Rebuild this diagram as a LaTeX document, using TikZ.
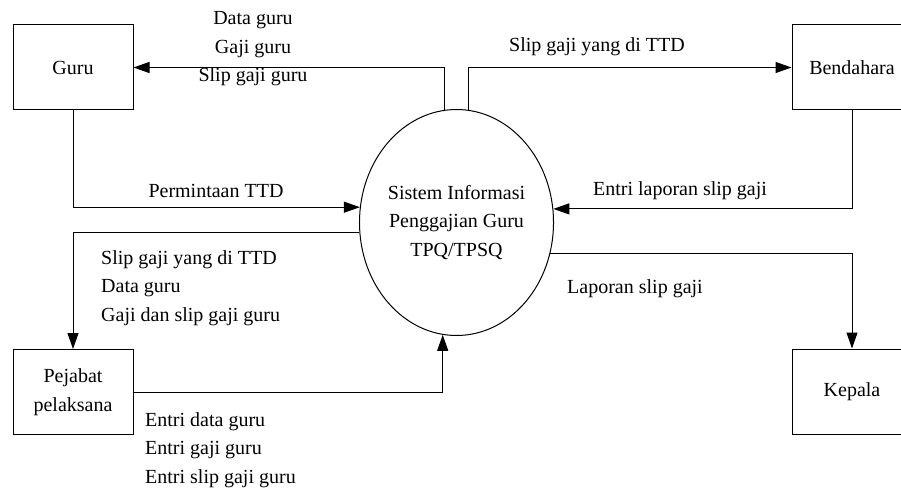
\documentclass[tikz,border=0pt]{standalone}
\usepackage{fontspec}
\setmainfont{Liberation Serif}
\usetikzlibrary{arrows.meta,shapes.geometric}
\begin{document}
\begin{tikzpicture}[x=1pt,y=-1pt,
  txt/.style={font=\fontsize{20}{28.5}\selectfont, inner sep=0pt},
  entity/.style={draw, line width=1pt, minimum width=120pt, minimum height=85pt, inner sep=0pt, align=center, font=\fontsize{20}{28.5}\selectfont},
  proc/.style={draw, ellipse, line width=1pt, minimum width=191pt, minimum height=226pt, inner sep=0pt, align=center, font=\fontsize{20}{28.5}\selectfont},
  flow/.style={line width=1pt, -{Triangle[length=16pt,width=11pt]}}]
\useasboundingbox (0,0) rectangle (901,489);
\clip (0,0) rectangle (901,489);
\node[entity] (guru) at (73,67.5) {Guru};
\node[entity] (bend) at (852,67.5) {Bendahara};
\node[entity] (pej) at (73,392) {Pejabat\\pelaksana};
\node[entity] (kep) at (852,391.5) {Kepala};
\node[proc] (sys) at (456.5,222.5) {Sistem Informasi\\Penggajian Guru\\TPQ/TPSQ};
% flows
\draw[flow] (sys.96.4) |- (guru.east);
\draw[flow] (sys.84.7) |- (bend.west);
\draw[flow] (guru.south) |- (sys.171.9);
\draw[flow] (bend.south) |- (sys.8.1);
\draw[flow] (sys.186.9) -| (pej.north);
\draw[flow] (pej.east) -| (sys.263.6);
\draw[flow] (sys.342.3) -| (kep.north);
% labels
\node[txt, align=center, anchor=base] (l1) at (253,82) {Data guru\\Gaji guru\\Slip gaji guru};
\node[txt, anchor=base] (l2) at (597,52) {Slip gaji yang di TTD};
\node[txt, anchor=base] (l3) at (216,197) {Permintaan TTD};
\node[txt, anchor=base] (l4) at (680,195) {Entri laporan slip gaji};
\node[txt, align=left, anchor=base west] (l5) at (101,321) {Slip gaji yang di TTD\\Data guru\\Gaji dan slip gaji guru};
\node[txt, anchor=base west] (l6) at (567,293) {Laporan slip gaji};
\node[txt, align=left, anchor=base west] (l7) at (145,483) {Entri data guru\\Entri gaji guru\\Entri slip gaji guru};
\end{tikzpicture}
\end{document}
